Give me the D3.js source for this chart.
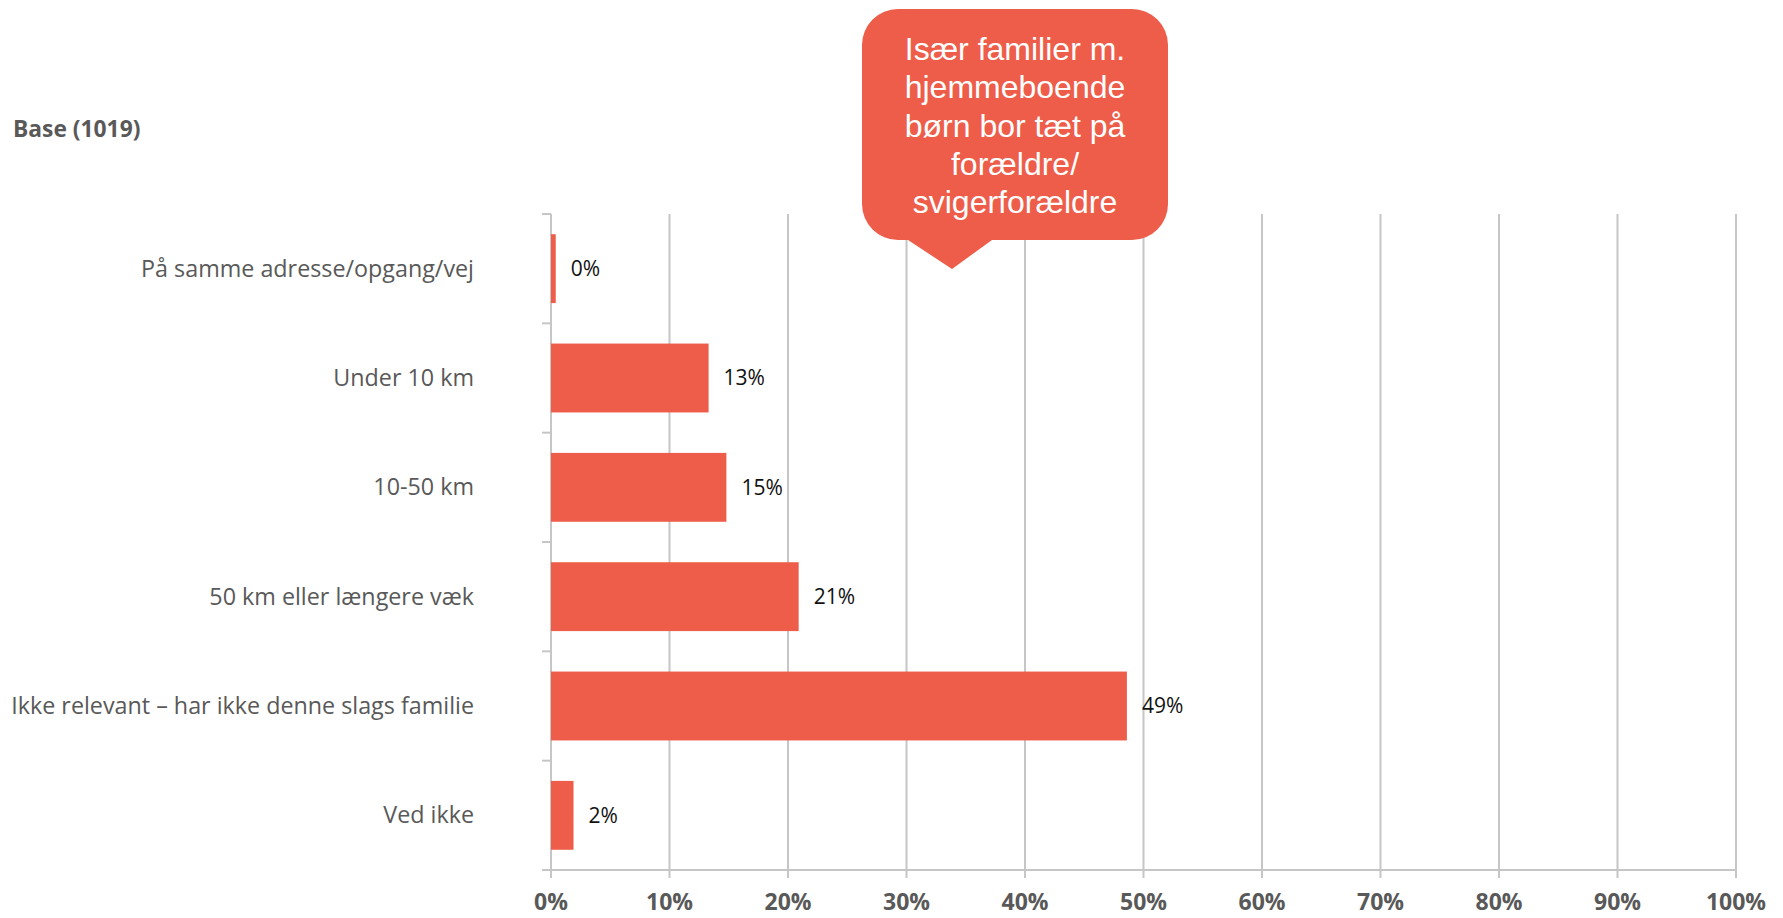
<!DOCTYPE html>
<html><head><meta charset="utf-8">
<script src="https://cdn.jsdelivr.net/npm/d3@7/dist/d3.min.js"></script>
<style>html,body{margin:0;padding:0;background:#fff;}svg{display:block;}</style>
</head><body>
<svg id="chart" width="1783" height="918"></svg>
<script>
const categories = ["På samme adresse/opgang/vej","Under 10 km","10-50 km","50 km eller længere væk","Ikke relevant – har ikke denne slags familie","Ved ikke"];
const values = [0.4, 13.3, 14.8, 20.9, 48.6, 1.9];
const xTicks = [0,10,20,30,40,50,60,70,80,90,100];
const baseLabel = "Base (1019)";
const calloutLines = ["Især familier m.","hjemmeboende","børn bor tæt på","forældre/","svigerforældre"];

const W = 1783, H = 918;
const m = {left:551, right:W-1736, top:214, bottom:H-870};
const barColor = "#EE5D4A", gridColor = "#C6C6C6", labelGray = "#595959";
const font = "'Open Sans', sans-serif";

const svg = d3.select("#chart");
const x = d3.scaleLinear().domain([0,100]).range([m.left, W-m.right]);
const y = d3.scaleBand().domain(categories).range([m.top, H-m.bottom]).paddingInner(0.37).paddingOuter(0.185);
const yb = d3.scaleBand().domain(categories).range([m.top, H-m.bottom]);

// gridlines
svg.append("g").selectAll("line").data(xTicks.slice(1)).join("line")
  .attr("x1", d=>x(d)).attr("x2", d=>x(d)).attr("y1", m.top).attr("y2", H-m.bottom+8)
  .attr("stroke", gridColor).attr("stroke-width", 2);
// x axis
svg.append("line").attr("x1", m.left-9).attr("x2", x(100)).attr("y1", H-m.bottom).attr("y2", H-m.bottom)
  .attr("stroke", gridColor).attr("stroke-width", 2);
svg.append("line").attr("x1", x(0)).attr("x2", x(0)).attr("y1", H-m.bottom).attr("y2", H-m.bottom+8)
  .attr("stroke", gridColor).attr("stroke-width", 2);
// y axis
svg.append("line").attr("x1", x(0)).attr("x2", x(0)).attr("y1", m.top).attr("y2", H-m.bottom)
  .attr("stroke", gridColor).attr("stroke-width", 2);
const bounds = categories.map(c=>yb(c));
svg.append("g").selectAll("line").data(bounds).join("line")
  .attr("x1", m.left-9).attr("x2", m.left).attr("y1", d=>d).attr("y2", d=>d)
  .attr("stroke", gridColor).attr("stroke-width", 2);

// tick labels
svg.append("g").selectAll("text").data(xTicks).join("text")
  .attr("x", d=>x(d)).attr("y", 910).attr("text-anchor","middle")
  .attr("font-family", font).attr("font-weight","bold").attr("font-size", 23).attr("fill", labelGray)
  .text(d=>d+"%");

// bars
svg.append("g").selectAll("rect").data(values).join("rect")
  .attr("x", x(0)).attr("y", (d,i)=>y(categories[i])).attr("height", y.bandwidth())
  .attr("width", d=>x(d)-x(0)).attr("fill", barColor);

// value labels
svg.append("g").selectAll("text").data(values).join("text")
  .attr("x", d=>x(d)+15).attr("y", (d,i)=>y(categories[i])+y.bandwidth()/2).attr("dy","0.35em")
  .attr("font-family", font).attr("font-size", 21).attr("fill", "#111")
  .text(d=>Math.round(d)+"%");

// category labels
svg.append("g").selectAll("text").data(categories).join("text")
  .attr("x", 474).attr("y", d=>y(d)+y.bandwidth()/2).attr("dy","0.35em").attr("text-anchor","end")
  .attr("font-family", font).attr("font-size", 23.3).attr("fill", labelGray)
  .text(d=>d);

// base label
svg.append("text").attr("x", 13).attr("y", 137)
  .attr("font-family", font).attr("font-weight","bold").attr("font-size", 22.8).attr("fill", labelGray)
  .text(baseLabel);

// callout
const cb = {x0:862, x1:1168, y0:9, y1:240, r:36, tipX:952, tipY:269, baseL:908, baseR:992};
const p = d3.path();
p.moveTo(cb.x0+cb.r, cb.y0);
p.lineTo(cb.x1-cb.r, cb.y0);
p.arcTo(cb.x1, cb.y0, cb.x1, cb.y0+cb.r, cb.r);
p.lineTo(cb.x1, cb.y1-cb.r);
p.arcTo(cb.x1, cb.y1, cb.x1-cb.r, cb.y1, cb.r);
p.lineTo(cb.baseR, cb.y1);
p.lineTo(cb.tipX, cb.tipY);
p.lineTo(cb.baseL, cb.y1);
p.lineTo(cb.x0+cb.r, cb.y1);
p.arcTo(cb.x0, cb.y1, cb.x0, cb.y1-cb.r, cb.r);
p.lineTo(cb.x0, cb.y0+cb.r);
p.arcTo(cb.x0, cb.y0, cb.x0+cb.r, cb.y0, cb.r);
p.closePath();
svg.append("path").attr("d", p.toString()).attr("fill", barColor);
svg.append("g").selectAll("text").data(calloutLines).join("text")
  .attr("x", (cb.x0+cb.x1)/2).attr("y", (d,i)=>60+i*38.3).attr("text-anchor","middle")
  .attr("font-family", "'Liberation Sans', Arial, sans-serif").attr("font-size", 32).attr("fill", "#fff")
  .text(d=>d);
</script>
</body></html>
